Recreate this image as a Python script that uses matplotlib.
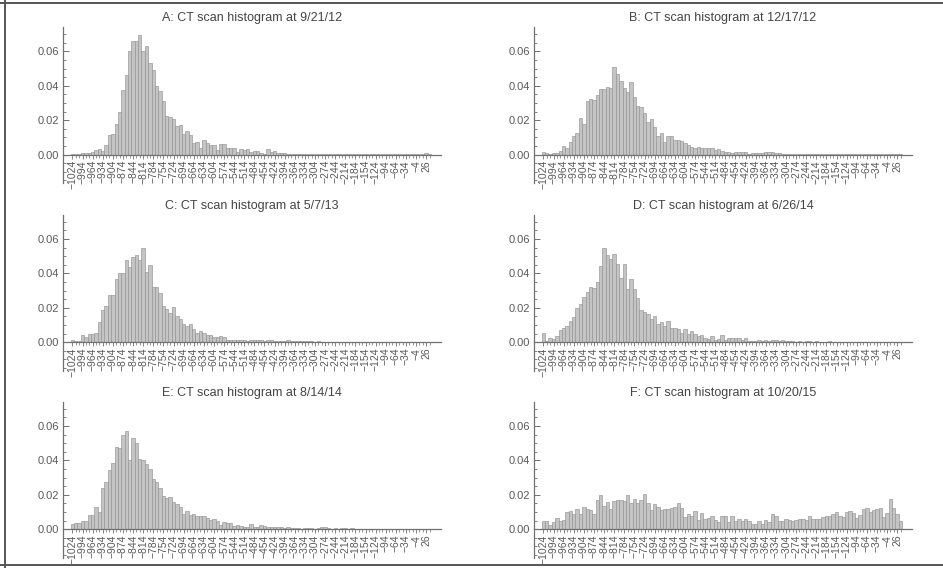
import numpy as np
import matplotlib
matplotlib.use("Agg")
import matplotlib.pyplot as plt
from matplotlib.ticker import FixedLocator, MultipleLocator
from matplotlib.lines import Line2D

plt.rcParams['font.family'] = ['Liberation Sans', 'DejaVu Sans']

# Hounsfield bins: left edge of each 10 HU bin
bin_start = -1024
bin_width = 10

titles = [
	"A: CT scan histogram at 9/21/12",
	"B: CT scan histogram at 12/17/12",
	"C: CT scan histogram at 5/7/13",
	"D: CT scan histogram at 6/26/14",
	"E: CT scan histogram at 8/14/14",
	"F: CT scan histogram at 10/20/15",
]

# Fraction of voxels per bin, one list per scan
scan_a = [
	0.0005, 0.0005, 0.0005, 0.0007, 0.0007, 0.0008, 0.0015, 0.0025, 0.003, 0.002,
	0.0055, 0.0115, 0.012, 0.0175, 0.0245, 0.0375, 0.0465, 0.060, 0.066, 0.066,
	0.0695, 0.060, 0.063, 0.053, 0.049, 0.040, 0.037, 0.031, 0.0225, 0.022,
	0.0205, 0.0165, 0.017, 0.012, 0.0135, 0.0115, 0.0065, 0.007, 0.004, 0.0085,
	0.0065, 0.0055, 0.0055, 0.0025, 0.006, 0.006, 0.004, 0.0035, 0.0035, 0.0015,
	0.003, 0.0025, 0.003, 0.0015, 0.002, 0.0018, 0.001, 0.0005, 0.003, 0.0015,
	0.002, 0.001, 0.001, 0.0008, 0.0005, 0.0005, 0.0005, 0.0004, 0.0004, 0.0005,
	0.0004, 0.0004, 0.0003, 0.0004, 0.0005, 0.0003, 0.0004, 0.0003, 0.0004, 0.0004,
	0.0003, 0.0003, 0.0004, 0.0003, 0.0003, 0.0004, 0.0003, 0.0003, 0.0003, 0.0004,
	0.0003, 0.0003, 0.0003, 0.0003, 0.0004, 0.0003, 0.0003, 0.0003, 0.0004, 0.0003,
	0.0003, 0.0003, 0.0004, 0.0004, 0.0005, 0.0006, 0.0003,
]
scan_b = [
	0.0015, 0.001, 0.0003, 0.001, 0.0008, 0.002, 0.005, 0.004, 0.007, 0.0105,
	0.0125, 0.0215, 0.018, 0.031, 0.0325, 0.0315, 0.0345, 0.038, 0.038, 0.0395,
	0.0385, 0.051, 0.047, 0.043, 0.0385, 0.0365, 0.042, 0.0335, 0.028, 0.0275,
	0.024, 0.019, 0.0205, 0.016, 0.0105, 0.0125, 0.0075, 0.011, 0.0105, 0.0085,
	0.0085, 0.008, 0.0065, 0.0055, 0.0045, 0.004, 0.0045, 0.0035, 0.004, 0.0035,
	0.0035, 0.0025, 0.003, 0.002, 0.0015, 0.0015, 0.0008, 0.0012, 0.0015, 0.0012,
	0.0015, 0.0002, 0.0008, 0.001, 0.0008, 0.001, 0.0012, 0.0015, 0.0015, 0.0008,
	0.001, 0.0005, 0.0005, 0.0004, 0.0005, 0.0004, 0.0005, 0.0004, 0.0003, 0.0004,
	0.0004, 0.0003, 0.0004, 0.0003, 0.0004, 0.0003, 0.0003, 0.0004, 0.0003, 0.0005,
	0.0003, 0.0003, 0.0004, 0.0003, 0.0003, 0.0003, 0.0004, 0.0003, 0.0003, 0.0003,
	0.0003, 0.0004, 0.0003, 0.0005, 0.0005, 0.0003, 0.0002,
]
scan_c = [
	0.0015, 0.001, 0.0005, 0.004, 0.003, 0.005, 0.005, 0.0055, 0.012, 0.019,
	0.021, 0.0275, 0.0275, 0.037, 0.0405, 0.040, 0.048, 0.044, 0.0495, 0.0505,
	0.048, 0.055, 0.041, 0.045, 0.032, 0.032, 0.0285, 0.021, 0.0195, 0.017,
	0.0205, 0.0155, 0.0135, 0.0105, 0.0095, 0.0105, 0.0075, 0.0055, 0.0065, 0.0055,
	0.0045, 0.0045, 0.003, 0.003, 0.0035, 0.003, 0.0015, 0.0015, 0.0015, 0.0012,
	0.0015, 0.0015, 0.001, 0.0012, 0.0015, 0.0012, 0.0015, 0.001, 0.0015, 0.0015,
	0.001, 0.0008, 0.0005, 0.001, 0.0012, 0.001, 0.0008, 0.0008, 0.0008, 0.001,
	0.0008, 0.0005, 0.0004, 0.0005, 0.0004, 0.0004, 0.0003, 0.0004, 0.0003, 0.0004,
	0.0003, 0.0004, 0.0003, 0.0003, 0.0004, 0.0003, 0.0003, 0.0003, 0.0004, 0.0003,
	0.0003, 0.0004, 0.0003, 0.0003, 0.0003, 0.0003, 0.0004, 0.0003, 0.0003, 0.0003,
	0.0003, 0.0003, 0.0004, 0.0003, 0.0004, 0.0003, 0.0002,
]
scan_d = [
	0.0055, 0.001, 0.0025, 0.002, 0.0035, 0.007, 0.008, 0.0095, 0.0125, 0.0145,
	0.020, 0.0225, 0.0265, 0.0295, 0.032, 0.0315, 0.035, 0.0445, 0.055, 0.0505,
	0.0485, 0.0515, 0.0455, 0.0375, 0.0455, 0.031, 0.0365, 0.031, 0.026, 0.019,
	0.0175, 0.0165, 0.0135, 0.0155, 0.0105, 0.0115, 0.0095, 0.0125, 0.008, 0.0085,
	0.0075, 0.0055, 0.0075, 0.005, 0.0065, 0.005, 0.0035, 0.0045, 0.0025, 0.002,
	0.0035, 0.0015, 0.002, 0.004, 0.0015, 0.0025, 0.0025, 0.0025, 0.0025, 0.0015,
	0.0025, 0.001, 0.0008, 0.0005, 0.0015, 0.0008, 0.0015, 0.001, 0.0015, 0.0015,
	0.001, 0.0015, 0.0008, 0.0005, 0.0005, 0.0004, 0.0005, 0.0004, 0.0008, 0.0005,
	0.0004, 0.0005, 0.0004, 0.0003, 0.0004, 0.0005, 0.0003, 0.0004, 0.0003, 0.0004,
	0.0003, 0.0004, 0.0003, 0.0003, 0.0004, 0.0003, 0.0004, 0.0003, 0.0003, 0.0004,
	0.0003, 0.0004, 0.0003, 0.0004, 0.0004, 0.0003, 0.0002,
]
scan_e = [
	0.0032, 0.0035, 0.0035, 0.005, 0.0045, 0.008, 0.008, 0.013, 0.010, 0.024,
	0.0275, 0.0345, 0.0385, 0.048, 0.047, 0.055, 0.057, 0.0405, 0.053, 0.050,
	0.041, 0.0405, 0.038, 0.035, 0.029, 0.0275, 0.024, 0.0195, 0.018, 0.019,
	0.016, 0.0145, 0.013, 0.009, 0.0105, 0.008, 0.009, 0.0075, 0.0075, 0.0075,
	0.0065, 0.0055, 0.006, 0.0045, 0.0025, 0.004, 0.0038, 0.0035, 0.002, 0.0025,
	0.002, 0.0015, 0.0015, 0.003, 0.0015, 0.0015, 0.0025, 0.002, 0.0015, 0.001,
	0.0015, 0.0015, 0.0012, 0.0008, 0.001, 0.0008, 0.0005, 0.0005, 0.0004, 0.0005,
	0.0008, 0.0005, 0.0004, 0.0005, 0.0015, 0.001, 0.0005, 0.0004, 0.0005, 0.0004,
	0.0008, 0.0005, 0.0004, 0.0005, 0.0004, 0.0003, 0.0004, 0.0003, 0.0004, 0.0003,
	0.0004, 0.0003, 0.0003, 0.0004, 0.0003, 0.0003, 0.0003, 0.0004, 0.0003, 0.0003,
	0.0003, 0.0004, 0.0003, 0.0003, 0.0003, 0.0003, 0.0002,
]
scan_f = [
	0.005, 0.005, 0.0025, 0.004, 0.0065, 0.005, 0.0055, 0.010, 0.0105, 0.009,
	0.012, 0.009, 0.013, 0.012, 0.011, 0.009, 0.017, 0.020, 0.0135, 0.016,
	0.012, 0.0165, 0.017, 0.017, 0.0165, 0.020, 0.015, 0.0175, 0.0155, 0.017,
	0.0205, 0.0155, 0.011, 0.0145, 0.013, 0.011, 0.0115, 0.0115, 0.0125, 0.013,
	0.0155, 0.0125, 0.007, 0.009, 0.0075, 0.0105, 0.0055, 0.0095, 0.006, 0.0065,
	0.0075, 0.0055, 0.004, 0.0075, 0.0075, 0.004, 0.0075, 0.005, 0.006, 0.005,
	0.006, 0.005, 0.003, 0.003, 0.005, 0.003, 0.0055, 0.004, 0.009, 0.0075,
	0.005, 0.005, 0.006, 0.0055, 0.0045, 0.0055, 0.006, 0.006, 0.0055, 0.0075,
	0.006, 0.006, 0.006, 0.007, 0.0075, 0.0075, 0.009, 0.010, 0.0075, 0.007,
	0.010, 0.0105, 0.0095, 0.0065, 0.008, 0.0115, 0.0125, 0.010, 0.011, 0.012,
	0.0125, 0.007, 0.0095, 0.0175, 0.0125, 0.009, 0.005,
]
scans = [scan_a, scan_b, scan_c, scan_d, scan_e, scan_f]

W, H = 943, 568
fig = plt.figure(figsize=(W / 100, H / 100), dpi=100)
fig.patch.set_facecolor("white")

AXIS = "#707070"
TEXT = "#5a5a5a"
col_x = [63, 534]
row_top = [27, 214.75, 401.7]
ax_w, ax_h = 378, 156
ylo, yhi = -0.01657, 0.07413

for k, (title, vals) in enumerate(zip(titles, scans)):
	r, c = divmod(k, 2)
	x0, y0 = col_x[c], row_top[r]
	ax = fig.add_axes([x0 / W, 1 - (y0 + ax_h) / H, ax_w / W, ax_h / H])
	n = len(vals)
	idx = np.arange(n)
	ax.bar(idx, vals, width=1.0, color="#c4c4c4", edgecolor="#939393", linewidth=0.45)
	ax.set_xlim(-2.8, 109.4)
	ax.set_ylim(ylo, yhi)
	for s in ("top", "right"):
		ax.spines[s].set_visible(False)
	ax.spines["bottom"].set_position(("data", 0))
	for s in ("left", "bottom"):
		ax.spines[s].set_color(AXIS)
		ax.spines[s].set_linewidth(0.9)
	ax.set_facecolor("none")

	ax.yaxis.set_major_locator(FixedLocator([0, 0.02, 0.04, 0.06]))
	ax.yaxis.set_minor_locator(MultipleLocator(0.005))
	ax.set_yticklabels(["0.00", "0.02", "0.04", "0.06"])
	ax.tick_params(axis="y", which="major", direction="in", length=4, width=0.7, color=AXIS,
		labelsize=8, labelcolor=TEXT, pad=3)
	ax.tick_params(axis="y", which="minor", direction="in", length=2, width=0.6, color=AXIS)

	lab_pos = idx[::3]
	ax.xaxis.set_major_locator(FixedLocator(lab_pos))
	ax.xaxis.set_minor_locator(FixedLocator(idx))
	ax.set_xticklabels([str(bin_start + bin_width * i).replace("-", "\u2212") for i in lab_pos],
		rotation=90, va="top", ha="center")
	ax.tick_params(axis="x", which="major", direction="out", length=3, width=0.6, color=AXIS,
		labelsize=7.5, labelcolor=TEXT, pad=1)
	ax.tick_params(axis="x", which="minor", direction="out", length=2, width=0.5, color=AXIS)

	ax.set_title(title, fontsize=9, color="#444444", pad=4)

# outer frame of the panel grid
frame = dict(color="#555555", linewidth=1.4, transform=fig.transFigure)
fig.add_artist(Line2D([0, 1], [1 - 3 / H, 1 - 3 / H], **frame))
fig.add_artist(Line2D([5 / W, 5 / W], [0, 1], **frame))
fig.add_artist(Line2D([0, 1], [3 / H, 3 / H], **frame))

fig.savefig("out.png", dpi=100)
